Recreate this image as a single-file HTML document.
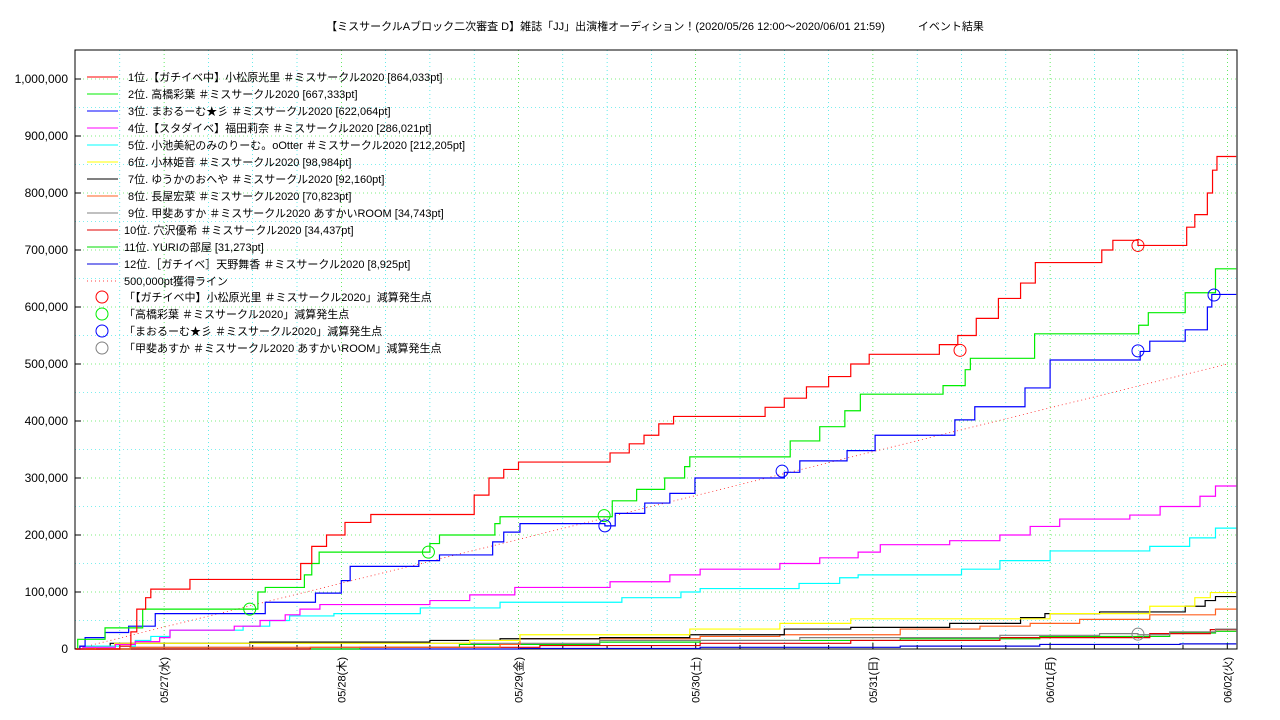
<!DOCTYPE html>
<html><head><meta charset="utf-8"><style>
body{margin:0;background:#fff;}
svg{display:block;font-family:"Liberation Sans","Noto Sans CJK JP",sans-serif;}
</style></head><body>
<svg id="chart" width="1280" height="720" viewBox="0 0 1280 720" xmlns="http://www.w3.org/2000/svg">
<rect width="1280" height="720" fill="#fff"/>
<text x="655" y="30" font-size="11" text-anchor="middle">【ミスサークルAブロック二次審査 D】雑誌「JJ」出演権オーディション！(2020/05/26 12:00〜2020/06/01 21:59)　　　イベント結果</text>
<g id="grid"></g><g id="axes"></g><g id="series"></g><g id="marks"></g><g id="legend"></g>
</svg>
<script>
const dayLabels=["05/27(水)","05/28(木)","05/29(金)","05/30(土)","05/31(日)","06/01(月)","06/02(火)"];
const yTicks=[0,100000,200000,300000,400000,500000,600000,700000,800000,900000,1000000];
const seriesNames=["1位.【ガチイベ中】小松原光里 ＃ミスサークル2020 [864,033pt]","2位. 高橋彩葉 ＃ミスサークル2020 [667,333pt]","3位. まおるーむ★彡 ＃ミスサークル2020 [622,064pt]","4位.【スタダイベ】福田莉奈 ＃ミスサークル2020 [286,021pt]","5位. 小池美紀のみのりーむ。oOtter ＃ミスサークル2020 [212,205pt]","6位. 小林姫音 ＃ミスサークル2020 [98,984pt]","7位. ゆうかのおへや ＃ミスサークル2020 [92,160pt]","8位. 長屋宏菜 ＃ミスサークル2020 [70,823pt]","9位. 甲斐あすか ＃ミスサークル2020 あすかいROOM [34,743pt]","10位. 穴沢優希 ＃ミスサークル2020 [34,437pt]","11位. YURIの部屋 [31,273pt]","12位.［ガチイベ］天野舞香 ＃ミスサークル2020 [8,925pt]"];
const seriesColors=["#ff0000","#00ee00","#0000ff","#ff00ff","#00ffff","#ffff00","#000000","#ff6020","#808080","#e00000","#00dd00","#0000dd"];
// step data: [hours since 05/26 12:00, thousands of pt]
const s1=[[0,0],[6,5],[7.5,30],[8.3,70],[9.5,90],[10.2,105],[15.5,122],[30.5,150],[32,180],[34,200],[36.5,222],[40,236],[54,270],[56,300],[58,315],[60,328],[72.4,344],[75,360],[77,375],[79,395],[81,408],[93.4,424],[96,440],[99,460],[102,478],[105,500],[107.5,517],[117,534],[119.5,550],[122,580],[125,615],[128,642],[130,678],[139,700],[140.5,717],[143.9,708],[150.5,740],[151.6,762],[153.3,800],[154,840],[154.6,864]];
const s2=[[0,0],[0.3,17],[4,37],[9.1,70],[24.7,100],[25.7,108],[31,130],[32,150],[33,170],[48,185],[49.3,200],[56.8,220],[57.5,232],[72.7,260],[76,280],[79.8,300],[82.5,320],[83.2,337],[96.8,365],[100.8,390],[104.2,418],[106.3,447],[117.5,462],[120.5,490],[121.2,510],[129.9,553],[144,568],[145.3,590],[150.3,625],[154.4,667]];
const s3=[[0,0],[0.6,5],[1.3,20],[4,29],[7.2,40],[10.8,62],[25.7,82],[32.5,98],[36,120],[37.2,145],[46.5,155],[49.3,165],[56.5,188],[58,205],[60.2,220],[71.7,216],[73.1,238],[77.1,256],[80.5,273],[83.9,300],[96,310],[98.1,330],[104.5,348],[108.3,375],[119.1,402],[121.8,425],[128.6,458],[132,507],[144.2,522],[145.5,540],[150.3,560],[153.3,600],[153.9,622]];
const s4=[[0,0],[1,3],[5.4,8],[8.1,13],[11.4,20],[12.8,33],[21.5,40],[25,50],[28.4,60],[30.4,70],[33.1,78],[48,85],[53.4,95],[59.5,108],[72.4,118],[80.5,130],[84.6,140],[95.4,150],[100.8,160],[106,170],[109,183],[118.4,190],[125.2,200],[129.3,215],[133.3,228],[142.8,235],[146.9,250],[152.3,268],[154.4,286]];
const s5=[[0,0],[1.3,5],[8.1,15],[10.2,22],[12.8,33],[22.7,40],[26.3,50],[29,58],[35,62],[46.7,72],[57.5,82],[74,90],[82,100],[84.6,106],[98,115],[103.5,125],[106,130],[120,140],[125.2,155],[132,172],[145.5,180],[150.9,195],[154.4,212]];
const s6=[[0,0],[2.7,5],[5.3,10],[53.4,15],[60.2,25],[83.2,35],[95.4,45],[105,53],[132,62],[145.5,75],[151.6,90],[153.7,99]];
const s7=[[0,0],[0.6,5],[4.7,10],[23.6,12],[48,15],[57.5,18],[71,20],[83.2,25],[96,35],[105,38],[118.4,45],[128,55],[131.3,62],[138.7,65],[150.3,75],[153,85],[154.4,92]];
const s8=[[0,0],[7.4,3],[57.5,8],[60.2,18],[84.6,22],[95.4,25],[111.7,35],[122.5,40],[129.3,45],[136,52],[145.5,60],[154.4,70]];
const s9=[[0,0],[7.4,3],[23.6,10],[71,15],[98.1,20],[125.2,24],[138.7,27],[143.9,25],[148.2,30],[154.4,35]];
const s10=[[0,0],[31.8,3],[62.9,6],[84.6,10],[105,15],[125.2,20],[145.5,27],[153.7,34]];
const s11=[[0,0],[38.5,3],[52,8],[71,12],[84.6,15],[111.7,18],[130.6,22],[148.2,28],[154.4,31]];
const s12=[[0,0],[60.2,1],[84.6,3],[111.7,5],[130.6,8],[149.6,9]];
const allSeries=[s1,s2,s3,s4,s5,s6,s7,s8,s9,s10,s11,s12];
const endHour=157.2;
const targetLine=[[0,0],[156,500]];
const circlesRed=[[119.8,524],[143.9,708]];
const circlesGreen=[[23.6,70],[47.8,170],[71.6,234]];
const circlesBlue=[[71.7,216],[95.7,312],[143.9,523],[154.2,621]];
const circlesGray=[[143.9,26]];
const circleNames=["「【ガチイベ中】小松原光里 ＃ミスサークル2020」減算発生点","「高橋彩葉 ＃ミスサークル2020」減算発生点","「まおるーむ★彡 ＃ミスサークル2020」減算発生点","「甲斐あすか ＃ミスサークル2020 あすかいROOM」減算発生点"];
const circleColors=["#ff0000","#00ee00","#0000ff","#808080"];

const NS="http://www.w3.org/2000/svg";
const X0=75.5,PX_H=177.2/24,Y0=649,PX_K=0.57,LEFT=75,RIGHT=1237,TOP=50;
const xs=h=>X0+h*PX_H, ys=k=>Y0-k*PX_K;
function mk(tag,attrs,parent){const e=document.createElementNS(NS,tag);for(const k in attrs)e.setAttribute(k,attrs[k]);parent.appendChild(e);return e;}
const grid=document.getElementById('grid'),axes=document.getElementById('axes'),ser=document.getElementById('series'),marks=document.getElementById('marks'),leg=document.getElementById('legend');
// horizontal grid
for(let v=50000;v<=1000000;v+=50000){const major=v%100000===0;
 const l=mk('line',{x1:LEFT,x2:RIGHT,y1:ys(v/1000),y2:ys(v/1000),stroke:major?'#00dd00':'#00dddd','stroke-width':0.6,'stroke-dasharray':'1,3'},grid);
 
 }
// vertical grid
for(let h=6;h<endHour;h+=6){const major=(h-12)%24===0;
 const l=mk('line',{x1:xs(h),x2:xs(h),y1:TOP,y2:Y0,stroke:major?'#00dd00':'#00dddd','stroke-width':0.6,'stroke-dasharray':'1,3'},grid);
 
 
 const t=mk('line',{x1:xs(h),x2:xs(h),y1:Y0,y2:Y0-(major?6:4),stroke:'#000'},axes);
 
 }
const frame=mk('rect',{x:LEFT,y:TOP,width:RIGHT-LEFT,height:Y0-TOP,fill:'none',stroke:'#000','stroke-width':1},axes);


yTicks.forEach(v=>{const y=ys(v/1000);
 const t=mk('line',{x1:LEFT,x2:LEFT+6,y1:y,y2:y,stroke:'#000'},axes);
 
 
 const tx=mk('text',{x:68,y:y+4,'font-size':12,'text-anchor':'end'},axes);tx.textContent=v.toLocaleString('en-US');
 
 });
dayLabels.forEach((d,i)=>{const x=xs(12+24*i);
 const tx=mk('text',{x:0,y:0,'font-size':11,'text-anchor':'end',transform:`translate(${x+4},${Y0+8}) rotate(-90)`},axes);tx.textContent=d;
 
 });
// target line
const tl=mk('line',{x1:xs(targetLine[0][0]),y1:ys(targetLine[0][1]),x2:xs(targetLine[1][0]),y2:ys(targetLine[1][1]),stroke:'#ff0000','stroke-width':0.7,'stroke-dasharray':'1,3'},ser);


// series (draw reverse so top ranks on top)
for(let i=allSeries.length-1;i>=0;i--){const d=allSeries[i];let p=`M${xs(d[0][0])},${ys(d[0][1])}`;
 for(let j=1;j<d.length;j++){p+=`H${xs(d[j][0])}V${ys(d[j][1])}`;} p+=`H${xs(endHour)}`;
 const e=mk('path',{d:p,fill:'none',stroke:seriesColors[i],'stroke-width':1.2},ser);
 
 }
[circlesRed,circlesGreen,circlesBlue,circlesGray].forEach((arr,ci)=>arr.forEach(c=>{
 const e=mk('circle',{cx:xs(c[0]),cy:ys(c[1]),r:6,fill:'none',stroke:circleColors[ci],'stroke-width':1},marks);
 
 }));
// legend
seriesNames.forEach((n,i)=>{const y=77+i*17;
 const l=mk('line',{x1:87,x2:118,y1:y,y2:y,stroke:seriesColors[i],'stroke-width':1},leg);
 
 
 const t=mk('text',{x:i<9?128:124,y:y+4,'font-size':11},leg);t.textContent=n;
 
 });
{const y=77+12*17;
 const l=mk('line',{x1:87,x2:118,y1:y,y2:y,stroke:'#ff0000','stroke-width':0.7,'stroke-dasharray':'1,3'},leg);
 
 
 const t=mk('text',{x:124,y:y+4,'font-size':11},leg);t.textContent='500,000pt獲得ライン';
 
 }
circleNames.forEach((n,i)=>{const y=297+i*17;
 const c=mk('circle',{cx:102,cy:y,r:6,fill:'none',stroke:circleColors[i],'stroke-width':1},leg);
 
 
 const t=mk('text',{x:124,y:y+4,'font-size':11},leg);t.textContent=n;
 
 });
</script>
</body></html>
